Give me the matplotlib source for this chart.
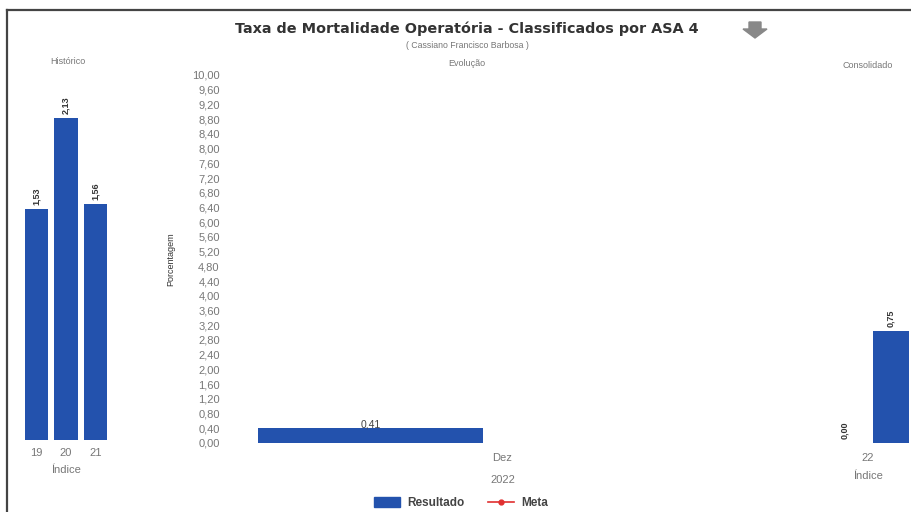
import matplotlib
matplotlib.use("Agg")
import matplotlib.pyplot as plt
from matplotlib.patches import Polygon
from matplotlib.lines import Line2D
from matplotlib.patches import Patch

plt.rcParams['font.family'] = ['Liberation Sans', 'DejaVu Sans']

# ---- data ----
hist_labels = ["19", "20", "21"]
hist_values = [1.53, 2.13, 1.56]
evol_labels = ["Dez"]
evol_year = "2022"
evol_values = [0.41]
cons_label = "22"
cons_values = [0.00, 0.75]
yticks_main = [i * 0.4 for i in range(26)]

title = "Taxa de Mortalidade Operatória - Classificados por ASA 4"
subtitle = "( Cassiano Francisco Barbosa )"

BLUE = "#2352ad"
GRAY = "#777777"
W, H = 911, 512

fig = plt.figure(figsize=(W / 100, H / 100), dpi=100)

def fx(px):
    return px / W

def fy(py):
    return 1 - py / H

# ---- Histórico axes ----
axh = fig.add_axes([fx(21.75), fy(440), fx(88.5), (440 - 75) / H])
axh.bar(range(len(hist_values)), hist_values, width=0.78, color=BLUE)
axh.set_xlim(-0.5, len(hist_values) - 0.5)
axh.set_ylim(0, 365 / 151)
axh.set_xticks(range(len(hist_values)))
axh.set_xticklabels(hist_labels, fontsize=8, color=GRAY)
axh.tick_params(axis='x', length=0, pad=6)
axh.set_yticks([])
for s in axh.spines.values():
    s.set_visible(False)
for i, v in enumerate(hist_values):
    axh.annotate(f"{v:.2f}".replace(".", ","), (i, v), xytext=(0, 3),
                 textcoords="offset points", rotation=90, ha="center", va="bottom",
                 fontsize=6.5, fontweight="bold", color="#333333")
axh.set_xlabel("Índice", fontsize=8, color=GRAY, labelpad=5)
fig.text(fx(68), fy(62), "Histórico", fontsize=6.5, color=GRAY, ha="center", va="center")

# ---- Evolução axes ----
axm = fig.add_axes([fx(235), fy(443), fx(535), (443 - 75) / H])
axm.bar([-0.247], evol_values, width=0.42, color=BLUE)
axm.set_xlim(-0.5, 0.5)
axm.set_ylim(0, 10)
axm.set_yticks(yticks_main)
axm.set_yticklabels([f"{t:.2f}".replace(".", ",") for t in yticks_main], fontsize=8, color=GRAY)
axm.tick_params(axis='y', length=0, pad=11)
axm.set_xticks([0])
axm.set_xticklabels(evol_labels, fontsize=8, color=GRAY)
axm.tick_params(axis='x', length=0, pad=7)
for s in axm.spines.values():
    s.set_visible(False)
axm.annotate(f"{evol_values[0]:.2f}".replace(".", ","), (-0.247, evol_values[0]), xytext=(0, -1),
             textcoords="offset points", ha="center", va="bottom", fontsize=7.5, color="#444444")
axm.set_xlabel(evol_year, fontsize=8, color=GRAY, labelpad=9)
axm.set_ylabel("Porcentagem", fontsize=6.5, color="#333333", labelpad=12)
fig.text(fx(467), fy(63), "Evolução", fontsize=6.5, color=GRAY, ha="center", va="center")

# ---- Consolidado axes ----
axc = fig.add_axes([fx(822), fy(443), fx(92), (443 - 75) / H])
axc.bar([-0.25, 0.25], cons_values, width=0.39, color=BLUE)
axc.set_xlim(-0.5, 0.5)
axc.set_ylim(0, 368 / 149)
axc.set_xticks([0])
axc.set_xticklabels([cons_label], fontsize=8, color=GRAY)
axc.tick_params(axis='x', length=0, pad=7)
axc.set_yticks([])
for s in axc.spines.values():
    s.set_visible(False)
for xpos, v in zip([-0.25, 0.25], cons_values):
    axc.annotate(f"{v:.2f}".replace(".", ","), (xpos, v), xytext=(0, 3),
                 textcoords="offset points", rotation=90, ha="center", va="bottom",
                 fontsize=6.5, fontweight="bold", color="#333333")
axc.set_xlabel("Índice", fontsize=8, color=GRAY, labelpad=6)
fig.text(fx(868), fy(65), "Consolidado", fontsize=6.5, color=GRAY, ha="center", va="center")

# ---- Titles ----
fig.text(fx(467), fy(29), title, fontsize=10.4, fontweight="bold", color="#333333",
         ha="center", va="center", family="DejaVu Sans")
fig.text(fx(467), fy(45), subtitle, fontsize=6.3, color=GRAY, ha="center", va="center")

# down arrow icon
arrow = Polygon([[fx(749), fy(22)], [fx(761), fy(22)], [fx(761), fy(29)], [fx(767), fy(29)],
                 [fx(755), fy(38)], [fx(743), fy(29)], [fx(749), fy(29)]],
                closed=True, transform=fig.transFigure, color="#888888")
fig.add_artist(arrow)

# border lines
fig.add_artist(Line2D([fx(7), fx(911)], [fy(10), fy(10)], transform=fig.transFigure,
                      color="#444444", lw=1.6))
fig.add_artist(Line2D([fx(7), fx(7)], [fy(10), fy(512)], transform=fig.transFigure,
                      color="#444444", lw=1.6))

# legend
handles = [Patch(facecolor=BLUE, edgecolor=BLUE, label="Resultado"),
           Line2D([0], [0], color="#e03030", marker="o", markersize=3.5, lw=1.2, label="Meta")]
leg = fig.legend(handles=handles, loc="center", bbox_to_anchor=(fx(461), fy(503)), ncol=2,
                 frameon=False, fontsize=8.5, handlelength=2.2, handleheight=0.9,
                 columnspacing=2.0, handletextpad=0.6)
for t in leg.get_texts():
    t.set_fontweight("bold")
    t.set_color("#444444")

fig.savefig("out.png", dpi=100)
